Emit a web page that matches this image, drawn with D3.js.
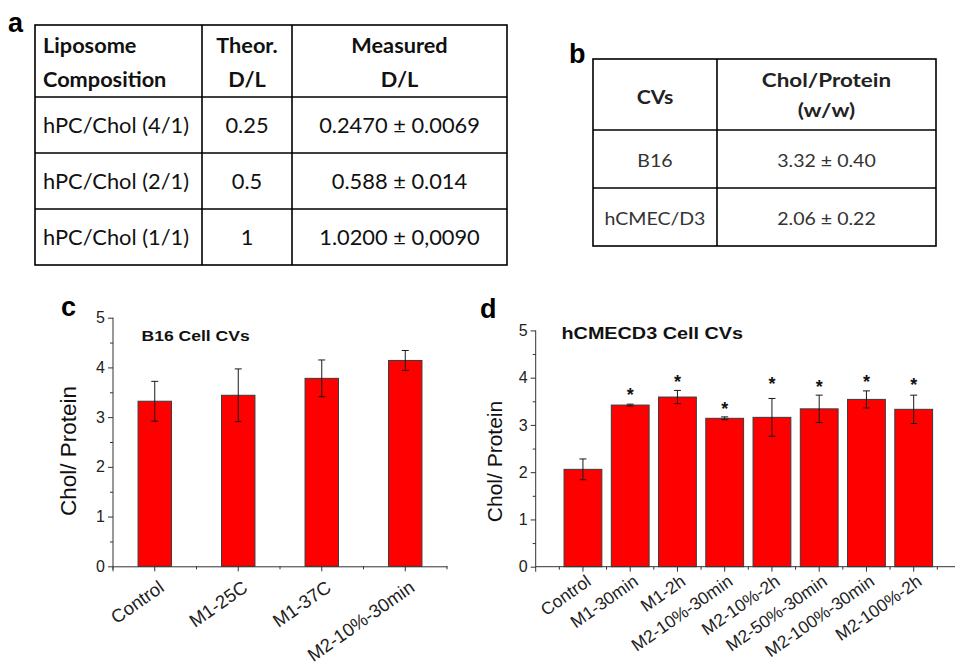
<!DOCTYPE html>
<html>
<head>
<meta charset="utf-8">
<script src="https://cdn.jsdelivr.net/npm/d3@7"></script>
<style>
  html, body { margin: 0; padding: 0; background: #fff; }
  svg { display: block; }
</style>
</head>
<body>
<svg id="fig" width="955" height="666"></svg>
<script>
// ---- data ----
// table a
const tableAHeader = [["Liposome", "Composition"], ["Theor.", "D/L"], ["Measured", "D/L"]];
const tableARows = [
  ["hPC/Chol (4/1)", "0.25", "0.2470 \u00b1 0.0069"],
  ["hPC/Chol (2/1)", "0.5", "0.588 \u00b1 0.014"],
  ["hPC/Chol (1/1)", "1", "1.0200 \u00b1 0,0090"]
];
// table b
const tableBHeader = [["CVs"], ["Chol/Protein", "(w/w)"]];
const tableBRows = [
  ["B16", "3.32 \u00b1 0.40"],
  ["hCMEC/D3", "2.06 \u00b1 0.22"]
];
// chart c
const b16Groups = ["Control", "M1-25C", "M1-37C", "M2-10%-30min"];
const b16Mean = [3.32, 3.44, 3.78, 4.14];
const b16Err = [0.40, 0.53, 0.37, 0.20];
// chart d
const hcGroups = ["Control", "M1-30min", "M1-2h", "M2-10%-30min", "M2-10%-2h",
  "M2-50%-30min", "M2-100%-30min", "M2-100%-2h"];
const hcMean = [2.06, 3.42, 3.59, 3.14, 3.16, 3.34, 3.54, 3.33];
const hcErr = [0.22, 0.02, 0.14, 0.03, 0.40, 0.29, 0.18, 0.30];
const hcStar = [null, 3.72, 3.99, 3.42, 3.95, 3.88, 3.99, 3.92];
const yTicks = [0, 1, 2, 3, 4, 5];
const yMinor = [0.5, 1.5, 2.5, 3.5, 4.5];

const svg = d3.select("#fig");
const ARIAL = "'Liberation Sans', Arial, sans-serif";
const CALIBRI = "Lato, 'Open Sans', sans-serif";

// text helper (lets a label be stretched horizontally like the source)
function txt(g, s, x, y, o = {}) {
  return g.append("text")
    .attr("transform", `translate(${x},${y}) scale(${o.sx || 1},1)`)
    .attr("text-anchor", o.anchor || "start")
    .attr("font-family", o.family || ARIAL)
    .attr("font-size", o.size || 14)
    .attr("font-weight", o.weight || "normal")
    .attr("fill", o.fill || "#000")
    .text(s);
}

// ---- tables ----
function drawGrid(g, cols, rows) {
  g.append("rect")
    .attr("x", cols[0]).attr("y", rows[0])
    .attr("width", cols[cols.length - 1] - cols[0])
    .attr("height", rows[rows.length - 1] - rows[0])
    .attr("fill", "none").attr("stroke", "#000").attr("stroke-width", 1.6);
  cols.slice(1, -1).forEach(c => g.append("line")
    .attr("x1", c).attr("x2", c).attr("y1", rows[0]).attr("y2", rows[rows.length - 1])
    .attr("stroke", "#000").attr("stroke-width", 1.6));
  rows.slice(1, -1).forEach(r => g.append("line")
    .attr("y1", r).attr("y2", r).attr("x1", cols[0]).attr("x2", cols[cols.length - 1])
    .attr("stroke", "#000").attr("stroke-width", 1.6));
}

// table a
const ta = svg.append("g");
const aCols = [35, 202, 292, 507];
const aRows = [25, 97, 153, 209, 265];
drawGrid(ta, aCols, aRows);
tableAHeader.forEach((lines, ci) => {
  lines.forEach((s, li) => {
    const left = ci === 0;
    const x = left ? aCols[0] + 8 : (aCols[ci] + aCols[ci + 1]) / 2;
    txt(ta, s, x, 53 + li * 34, { family: CALIBRI, size: 20.5, weight: "bold",
      anchor: left ? "start" : "middle", sx: 1.06, fill: "#111" });
  });
});
tableARows.forEach((row, ri) => {
  const yb = (aRows[ri + 1] + aRows[ri + 2]) / 2 + 8;
  row.forEach((s, ci) => {
    const left = ci === 0;
    const x = left ? aCols[0] + 8 : (aCols[ci] + aCols[ci + 1]) / 2;
    txt(ta, s, x, yb, { family: CALIBRI, size: 21, anchor: left ? "start" : "middle",
      sx: 1.04, fill: "#111" });
  });
});
txt(svg, "a", 8, 32, { size: 27, weight: "bold" });

// table b
const tb = svg.append("g");
const bCols = [593, 717, 936];
const bRows = [59, 130, 188, 246];
drawGrid(tb, bCols, bRows);
txt(tb, tableBHeader[0][0], (bCols[0] + bCols[1]) / 2, 104,
  { family: CALIBRI, size: 19, weight: "bold", anchor: "middle", sx: 1.12, fill: "#222" });
tableBHeader[1].forEach((s, li) => {
  txt(tb, s, (bCols[1] + bCols[2]) / 2, 87 + li * 30,
    { family: CALIBRI, size: 19.5, weight: "bold", anchor: "middle", sx: 1.15, fill: "#222" });
});
tableBRows.forEach((row, ri) => {
  const yb = (bRows[ri + 1] + bRows[ri + 2]) / 2 + 8;
  row.forEach((s, ci) => {
    txt(tb, s, (bCols[ci] + bCols[ci + 1]) / 2, yb,
      { family: CALIBRI, size: 17, anchor: "middle", sx: 1.15, fill: "#333" });
  });
});
txt(svg, "b", 569, 63, { size: 27, weight: "bold" });

// ---- bar charts ----
function barChart(o) {
  const g = svg.append("g");
  const x = d3.scaleBand().domain(o.groups).range(o.xr)
    .paddingInner(o.pin).paddingOuter(o.pout);
  const y = d3.scaleLinear().domain([0, 5]).range(o.yr);
  const base = o.yr[0];

  // minor x ticks between categories
  const step = x.step();
  d3.range(o.groups.length + 1).forEach(i => {
    const xm = x(o.groups[0]) + x.bandwidth() / 2 - step * 0.5 + i * step;
    if (xm > 955) return;
    g.append("line").attr("x1", xm).attr("x2", xm).attr("y1", base).attr("y2", base + 3)
      .attr("stroke", "#333");
  });

  // bars
  g.selectAll("rect.bar").data(o.groups).join("rect")
    .attr("class", "bar")
    .attr("x", d => x(d)).attr("width", x.bandwidth())
    .attr("y", (d, i) => y(o.mean[i]))
    .attr("height", (d, i) => base - y(o.mean[i]))
    .attr("fill", "#ff0000").attr("stroke", "#3a3a3a").attr("stroke-width", 1);

  // error bars
  const eb = g.selectAll("g.err").data(o.groups).join("g").attr("class", "err")
    .attr("stroke", "#1a1a1a").attr("stroke-width", 1);
  eb.append("line")
    .attr("x1", d => x(d) + x.bandwidth() / 2).attr("x2", d => x(d) + x.bandwidth() / 2)
    .attr("y1", (d, i) => y(o.mean[i] + o.err[i])).attr("y2", (d, i) => y(o.mean[i] - o.err[i]));
  [1, -1].forEach(s => eb.append("line")
    .attr("x1", d => x(d) + x.bandwidth() / 2 - 3.5).attr("x2", d => x(d) + x.bandwidth() / 2 + 3.5)
    .attr("y1", (d, i) => y(o.mean[i] + s * o.err[i])).attr("y2", (d, i) => y(o.mean[i] + s * o.err[i])));

  // significance stars
  if (o.star) {
    g.selectAll("text.star").data(o.groups.filter((d, i) => o.star[i] != null)).join("text")
      .attr("class", "star")
      .attr("x", d => x(d) + x.bandwidth() / 2)
      .attr("y", d => y(o.star[o.groups.indexOf(d)]) + 10)
      .attr("text-anchor", "middle").attr("font-family", ARIAL).attr("font-size", 18)
      .attr("font-weight", "bold").attr("fill", "#111").text("*");
  }

  // axes
  const xa = g.append("g").attr("transform", `translate(0,${base})`)
    .call(d3.axisBottom(x).tickSize(5).tickSizeOuter(0));
  if (o.axisEnd) xa.select(".domain").attr("d", `M${o.xr[0]},0H${o.axisEnd}`);
  xa.selectAll(".domain, .tick line").attr("stroke", "#333");
  xa.selectAll(".tick text")
    .attr("font-family", ARIAL).attr("font-size", o.xFont).attr("fill", "#222")
    .attr("text-anchor", "end").attr("dy", "0.72em").attr("y", 0)
    .attr("transform", `translate(${o.lblDx},${o.lblDy}) rotate(-35)`);

  const ya = g.append("g").attr("transform", `translate(${o.xr[0]},0)`)
    .call(d3.axisLeft(y).tickValues(yTicks).tickFormat(d3.format("d"))
      .tickSize(5).tickPadding(3).tickSizeOuter(0));
  ya.select(".domain").attr("d", `M0,${y(5)}V${base + 5}`);
  ya.selectAll(".domain, .tick line").attr("stroke", "#333");
  ya.selectAll(".tick text").attr("font-family", ARIAL).attr("font-size", 16).attr("fill", "#222");
  g.append("g").attr("transform", `translate(${o.xr[0]},0)`)
    .call(d3.axisLeft(y).tickValues(yMinor).tickSize(3).tickFormat(""))
    .call(s => s.select(".domain").remove())
    .selectAll("line").attr("stroke", "#333");

  // labels
  g.append("text")
    .attr("transform", `translate(${o.ylab[0]},${o.ylab[1]}) rotate(-90)`)
    .attr("text-anchor", "middle").attr("font-family", ARIAL).attr("font-size", o.ylabFont)
    .attr("fill", "#111").text("Chol/ Protein");
  txt(g, o.title, o.titlePos[0], o.titlePos[1],
    { size: o.titleFont, weight: "bold", sx: o.titleSx, fill: "#111" });
  txt(g, o.letter, o.letterPos[0], o.letterPos[1], { size: 27, weight: "bold" });
}

barChart({
  groups: b16Groups, mean: b16Mean, err: b16Err,
  xr: [113, 447], yr: [566.3, 317.7], pin: 0.6, pout: 0.3,
  xFont: 18.5, lblDx: 3, lblDy: 13,
  ylab: [76, 451], ylabFont: 22.5,
  title: "B16 Cell CVs", titlePos: [141.5, 340.5], titleFont: 15, titleSx: 1.17,
  letter: "c", letterPos: [61, 316]
});

barChart({
  groups: hcGroups, mean: hcMean, err: hcErr, star: hcStar,
  xr: [535.7, 535.7 + 9 * 47.25], yr: [566.7, 330.4], pin: 0.2, pout: 0.6,
  axisEnd: 955,
  xFont: 17.5, lblDx: 2, lblDy: 7,
  ylab: [502, 461.5], ylabFont: 21,
  title: "hCMECD3 Cell CVs", titlePos: [561.5, 339.3], titleFont: 16.5, titleSx: 1.2,
  letter: "d", letterPos: [480, 318]
});
</script>
</body>
</html>
